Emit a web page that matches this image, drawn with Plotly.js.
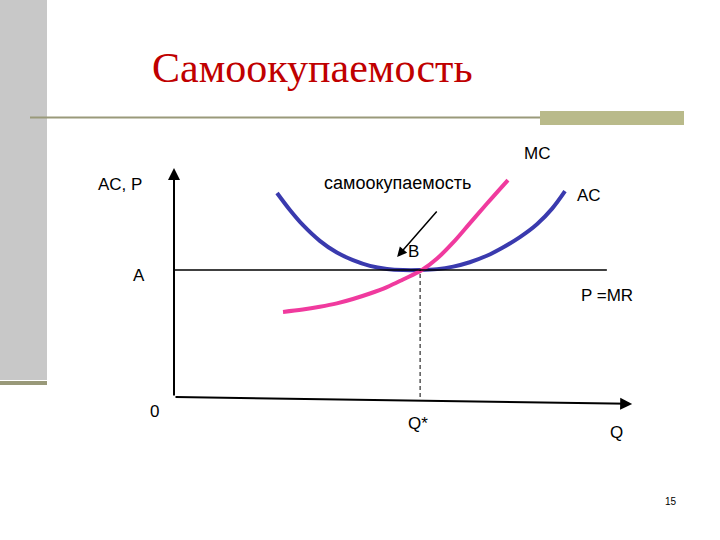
<!DOCTYPE html>
<html><head><meta charset="utf-8">
<script src="https://cdn.plot.ly/plotly-3.0.1.min.js"></script>
<style>body{margin:0;background:#fff}#c{width:720px;height:540px}</style>
</head><body><div id="c"></div>
<script>
// Data (economic units: Q quantity, P price/cost)
const acQ = [2.24, 2.52, 2.80, 3.17, 3.54, 3.89, 4.26, 4.63, 4.98, 5.35, 5.72, 6.07, 6.43, 6.80, 7.15, 7.52, 7.89, 8.22, 8.50];
const acP = [8.87, 8.13, 7.48, 6.79, 6.28, 5.95, 5.70, 5.57, 5.52, 5.52, 5.56, 5.67, 5.86, 6.14, 6.50, 6.95, 7.51, 8.19, 8.95];
const mcQ = [2.37, 2.80, 3.17, 3.54, 3.89, 4.26, 4.63, 4.98, 5.39, 5.72, 6.07, 6.43, 6.80, 7.26];
const mcP = [3.70, 3.80, 3.92, 4.07, 4.26, 4.50, 4.78, 5.11, 5.52, 6.02, 6.72, 7.55, 8.40, 9.43];
const priceA = 5.52;      // P = MR level
const priceQmax = 9.41;   // extent of P=MR line
const qStar = 5.35;       // break-even quantity
const axisYTop = 9.96;
const axisXEnd = [9.96, -0.30];
const labels = {
  title: "Самоокупаемость", mc: "MC", ac: "AC", yAxis: "AC, P", note: "самоокупаемость",
  b: "B", a: "A", pmr: "P =MR", zero: "0", qs: "Q*", q: "Q", page: "15"
};

const W = 720, H = 540;
const px = x => x / W, py = y => 1 - y / H;

const traces = [
  {x: acQ, y: acP, mode: 'lines', line: {color: '#3a3aae', width: 4, shape: 'spline', smoothing: 1}, hoverinfo: 'skip'},
  {x: mcQ, y: mcP, mode: 'lines', line: {color: '#f03a9e', width: 4, shape: 'spline', smoothing: 1}, hoverinfo: 'skip'},
  {x: [0, priceQmax], y: [priceA, priceA], mode: 'lines', line: {color: '#000', width: 1.5}, hoverinfo: 'skip'},
  {x: [qStar, qStar], y: [0, priceA], mode: 'lines', line: {color: '#000', width: 1, dash: '4px,3px'}, hoverinfo: 'skip'}
];

const txt = (t, x, y, size, extra) => Object.assign({
  text: t, xref: 'paper', yref: 'paper', x: px(x), y: py(y), xanchor: 'center', yanchor: 'middle',
  showarrow: false, font: {family: 'Liberation Sans, Arial, sans-serif', size: size, color: '#000'}
}, extra || {});

const annotations = [
  txt(labels.title, 312, 68, 42, {font: {family: 'Liberation Serif, Times New Roman, serif', size: 42, color: '#c00000'}}),
  txt(labels.mc, 537, 153, 17),
  txt(labels.ac, 589, 196, 17),
  txt(labels.yAxis, 120, 184, 17),
  txt(labels.note, 397, 183, 18),
  txt(labels.b, 414, 251, 17),
  txt(labels.a, 139, 275, 17),
  txt(labels.pmr, 607, 295, 17),
  txt(labels.zero, 154, 411, 17),
  txt(labels.qs, 418, 423, 17),
  txt(labels.q, 616, 432, 17),
  txt(labels.page, 671, 501, 10),
  // axes arrows
  {x: 0, y: axisYTop, ax: 0, ay: 0, xref: 'x', yref: 'y', axref: 'x', ayref: 'y', text: '', showarrow: true,
   arrowhead: 2, arrowsize: 1.2, arrowwidth: 2, arrowcolor: '#000', standoff: 0},
  {x: axisXEnd[0], y: axisXEnd[1], ax: 0, ay: 0, xref: 'x', yref: 'y', axref: 'x', ayref: 'y', text: '', showarrow: true,
   arrowhead: 2, arrowsize: 1.2, arrowwidth: 2, arrowcolor: '#000', standoff: 0},
  // pointer to break-even point
  {x: 4.85, y: 6.09, ax: 5.74, ay: 8.13, xref: 'x', yref: 'y', axref: 'x', ayref: 'y', text: '', showarrow: true,
   arrowhead: 2, arrowsize: 1.3, arrowwidth: 1.5, arrowcolor: '#000', standoff: 0}
];

const shapes = [
  {type: 'rect', xref: 'paper', yref: 'paper', x0: px(0), x1: px(47), y0: py(0), y1: py(380), fillcolor: '#c8c8c8', line: {width: 0}, layer: 'below'},
  {type: 'rect', xref: 'paper', yref: 'paper', x0: px(0), x1: px(47), y0: py(381), y1: py(385), fillcolor: '#999979', line: {width: 0}, layer: 'below'},
  {type: 'line', xref: 'paper', yref: 'paper', x0: px(30), x1: px(540), y0: py(117.5), y1: py(117.5), line: {color: '#9a9a7a', width: 2}, layer: 'below'},
  {type: 'rect', xref: 'paper', yref: 'paper', x0: px(540), x1: px(684), y0: py(111), y1: py(125), fillcolor: '#b9ba8a', line: {width: 0}, layer: 'below'}
];

const layout = {
  width: W, height: H, margin: {l: 0, r: 0, t: 0, b: 0},
  paper_bgcolor: '#fff', plot_bgcolor: 'rgba(0,0,0,0)', showlegend: false,
  xaxis: {range: [-174 / 46, (W - 174) / 46], visible: false, fixedrange: true},
  yaxis: {range: [-(H - 397) / 23, 397 / 23], visible: false, fixedrange: true},
  annotations: annotations, shapes: shapes
};

Plotly.newPlot('c', traces, layout, {staticPlot: true, displayModeBar: false});
</script></body></html>
